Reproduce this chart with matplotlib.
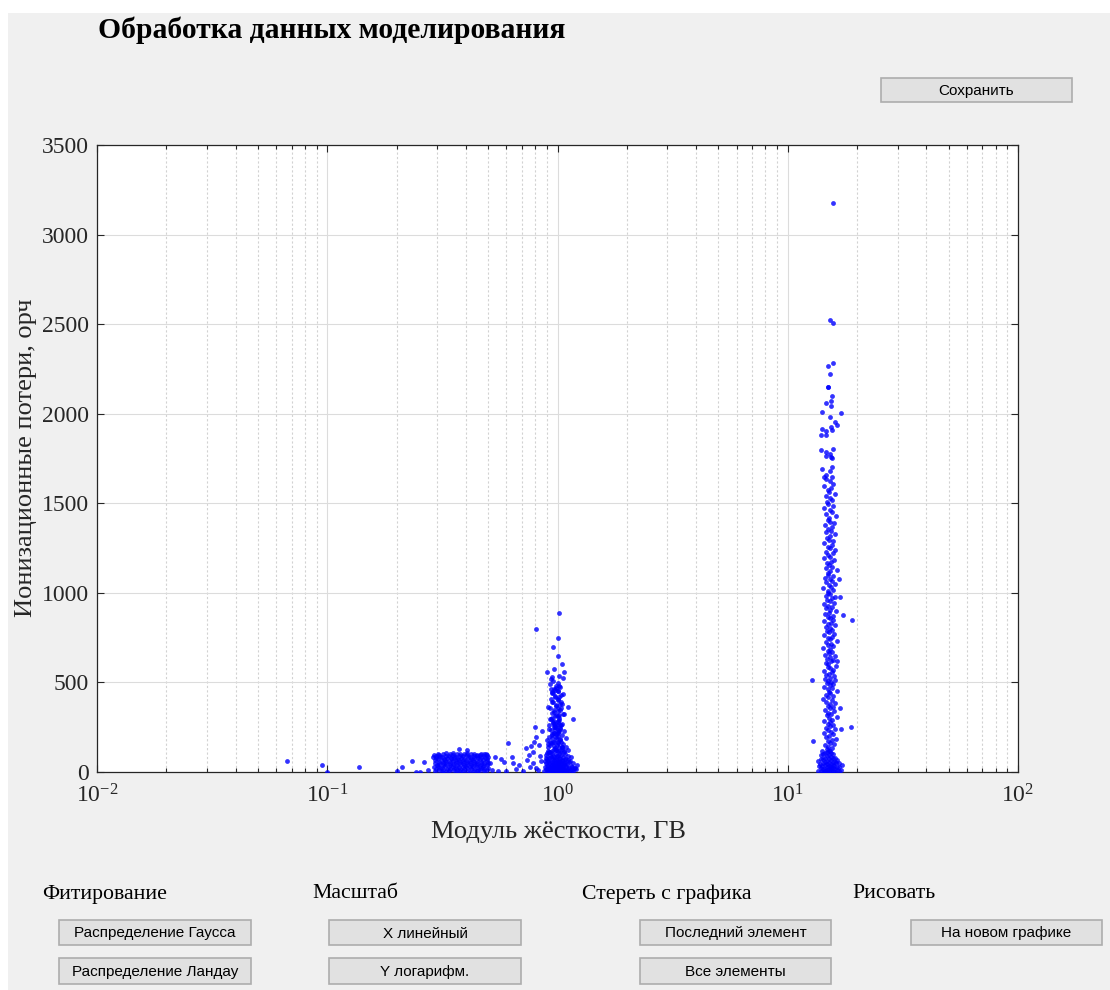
import matplotlib
matplotlib.use("Agg")
import matplotlib.pyplot as plt
from matplotlib.patches import Rectangle

plt.rcParams['font.family'] = ['Liberation Serif', 'DejaVu Serif']
plt.rcParams['mathtext.fontset'] = 'custom'
plt.rcParams['mathtext.rm'] = 'Liberation Serif'
plt.rcParams['mathtext.it'] = 'Liberation Serif'
plt.rcParams['mathtext.default'] = 'rm'

# ---- данные (оценены по картинке) ----
# редкие точки слева
s_x = [0.067, 0.095, 0.100, 0.138, 0.200, 0.212, 0.234, 0.243, 0.253, 0.264, 0.275, 0.289, 0.372, 0.405]
s_y = [61, 39, 2, 28, 3, 28, 62, 2, 0, 56, 10, 84, 128, 123]

# плотное облако около 0.3-0.5 ГВ
a_x = [0.294, 0.297, 0.292, 0.299, 0.295, 0.293, 0.298, 0.296, 0.291,
       0.305, 0.308, 0.303, 0.307, 0.306, 0.304, 0.309, 0.306, 0.302,
       0.316, 0.319, 0.315, 0.318, 0.317, 0.314, 0.320, 0.316, 0.318,
       0.327, 0.330, 0.326, 0.329, 0.328, 0.325, 0.331, 0.327, 0.329,
       0.339, 0.342, 0.338, 0.341, 0.340, 0.337, 0.343, 0.339, 0.341,
       0.351, 0.354, 0.350, 0.353, 0.352, 0.349, 0.355, 0.351, 0.353,
       0.363, 0.366, 0.362, 0.365, 0.364, 0.361, 0.367, 0.363, 0.365,
       0.376, 0.379, 0.375, 0.378, 0.377, 0.374, 0.380, 0.376, 0.378,
       0.389, 0.392, 0.388, 0.391, 0.390, 0.387, 0.393, 0.389, 0.391,
       0.403, 0.406, 0.402, 0.405, 0.404, 0.401, 0.407, 0.403, 0.405,
       0.417, 0.420, 0.416, 0.419, 0.418, 0.415, 0.421, 0.417, 0.419,
       0.432, 0.435, 0.431, 0.434, 0.433, 0.430, 0.436, 0.432, 0.434,
       0.447, 0.450, 0.446, 0.449, 0.448, 0.445, 0.451, 0.447, 0.449,
       0.462, 0.465, 0.461, 0.464, 0.463, 0.460, 0.466, 0.462, 0.464,
       0.478, 0.481, 0.477, 0.480, 0.479, 0.476, 0.482, 0.478, 0.480,
       0.495, 0.498, 0.494, 0.497, 0.496, 0.493, 0.499, 0.495]
a_y = [4, 16, 29, 41, 53, 65, 77, 88, 97,
       9, 21, 34, 46, 58, 70, 82, 93, 103,
       2, 13, 25, 38, 50, 62, 74, 86, 99,
       7, 18, 31, 43, 55, 67, 80, 91, 104,
       3, 15, 27, 39, 52, 64, 76, 89, 100,
       10, 22, 35, 47, 59, 71, 83, 94, 106,
       1, 12, 24, 37, 49, 61, 73, 85, 98,
       6, 19, 30, 42, 56, 68, 79, 92, 102,
       4, 14, 28, 40, 51, 63, 75, 87, 101,
       8, 20, 33, 45, 57, 69, 81, 95, 104,
       2, 15, 26, 38, 50, 62, 74, 86, 99,
       7, 19, 32, 44, 54, 66, 78, 90, 102,
       3, 13, 27, 39, 52, 64, 77, 88, 97,
       9, 21, 34, 46, 58, 70, 83, 94, 103,
       5, 17, 29, 41, 53, 65, 76, 89, 100,
       11, 24, 37, 49, 61, 73, 86, 96]

# точки между облаками
m_x = [0.49, 0.536, 0.57, 0.586, 0.61, 0.635, 0.64, 0.55, 0.51, 0.733, 0.75, 0.78, 0.80, 0.81, 0.76,
       0.81, 0.74, 0.78, 0.52, 0.60, 0.68, 0.71, 0.83, 0.84, 0.79, 0.66, 0.86, 0.85, 0.82, 0.77]
m_y = [100, 84, 73, 56, 162, 84, 50, 6, 50, 134, 95, 112, 251, 196, 28,
       22, 67, 50, 12, 8, 40, 4, 150, 90, 170, 18, 230, 60, 10, 145]

# облако около 1 ГВ
b_x = [0.876, 0.884, 0.879, 0.887,
       0.897, 0.904, 0.899, 0.902, 0.896, 0.905, 0.901,
       0.918, 0.924, 0.916, 0.923, 0.919, 0.925, 0.917,
       0.938, 0.944, 0.936, 0.942, 0.939, 0.945, 0.937, 0.943,
       0.957, 0.963, 0.955, 0.962, 0.958, 0.964, 0.956, 0.961,
       0.977, 0.983, 0.975, 0.982, 0.978, 0.984, 0.976, 0.981, 0.979,
       0.997, 1.004, 0.995, 1.002, 0.998, 1.005, 0.996, 1.003, 0.999,
       1.017, 1.024, 1.015, 1.022, 1.018, 1.025, 1.016, 1.023, 1.019,
       1.037, 1.044, 1.035, 1.042, 1.038, 1.045, 1.036, 1.043,
       1.057, 1.064, 1.055, 1.062, 1.058, 1.065, 1.056,
       1.077, 1.084, 1.075, 1.082, 1.078, 1.085,
       1.106, 1.114, 1.104, 1.112, 1.108, 1.115,
       1.136, 1.144, 1.138, 1.142,
       1.166, 1.174, 1.169,
       1.205, 1.213]
b_y = [5, 30, 62, 95,
       2, 18, 41, 70, 105, 140, 180,
       8, 26, 48, 77, 112, 150, 195,
       3, 15, 35, 58, 84, 120, 160, 210,
       10, 22, 44, 66, 92, 128, 170, 220,
       1, 14, 31, 52, 75, 100, 135, 185, 240,
       6, 20, 38, 60, 88, 115, 148, 200, 260,
       4, 17, 33, 55, 80, 108, 142, 176, 230,
       9, 24, 46, 69, 96, 130, 165, 205,
       2, 13, 36, 57, 86, 118, 155,
       7, 28, 50, 74, 102, 138,
       3, 19, 42, 65, 90, 125,
       11, 34, 60, 85,
       5, 25, 48,
       14, 38]
b_fill_x = [0.89, 0.89, 0.89, 0.91, 0.91, 0.91, 0.91, 0.93, 0.93, 0.93, 0.93, 0.93,
            0.95, 0.95, 0.95, 0.95, 0.95, 0.97, 0.97, 0.97, 0.97, 0.97, 0.97,
            0.99, 0.99, 0.99, 0.99, 0.99, 0.99, 1.01, 1.01, 1.01, 1.01, 1.01, 1.01,
            1.03, 1.03, 1.03, 1.03, 1.03, 1.05, 1.05, 1.05, 1.05, 1.07, 1.07, 1.07,
            1.09, 1.09, 1.09, 1.125, 1.125, 1.155, 1.155, 1.19]
b_fill_y = [15, 48, 80, 10, 35, 60, 120, 4, 25, 55, 95, 170,
            12, 40, 72, 105, 190, 6, 28, 50, 85, 145, 260,
            9, 38, 65, 125, 210, 320, 3, 30, 58, 92, 160, 280,
            12, 42, 75, 115, 240, 7, 32, 62, 140, 18, 45, 110,
            8, 35, 70, 20, 55, 10, 30, 22]
b_mid_x = [0.93, 0.99, 1.05, 0.91, 0.97, 1.03, 1.09, 0.95, 1.01, 1.07,
           0.92, 0.98, 1.04, 0.96, 1.02, 0.94, 1.00, 1.06, 0.97, 1.03,
           0.93, 0.99, 1.05, 0.95, 1.01, 0.98, 1.04, 0.96, 1.00, 0.94,
           1.02, 0.99, 0.97, 1.01, 0.95, 1.03]
b_mid_y = [110, 125, 140, 155, 168, 182, 190, 205, 215, 228,
           240, 252, 263, 275, 288, 298, 310, 322, 335, 345,
           358, 370, 381, 393, 405, 418, 428, 440, 452, 466,
           478, 195, 250, 170, 300, 265]
b_up_x = [0.97, 1.01, 0.94, 1.03, 0.99, 0.92, 1.05, 0.96, 1.00, 0.93,
          1.02, 0.98, 1.07, 0.95, 1.01, 0.97, 1.04, 0.91, 0.99, 1.03,
          0.96, 1.00, 0.94, 1.02, 0.98, 1.06, 0.95, 1.01, 0.97, 1.03,
          0.99, 0.93, 1.00, 0.96, 1.02, 0.98, 1.04, 0.95, 1.00, 0.97,
          1.01, 0.99, 0.94, 1.02, 0.98]
b_up_y = [215, 226, 234, 243, 251, 262, 270, 279, 287, 296,
          304, 313, 321, 330, 339, 347, 356, 365, 373, 382,
          391, 400, 409, 418, 427, 436, 445, 454, 463, 472,
          481, 490, 499, 508, 317, 268, 392, 441, 233, 286,
          355, 470, 520, 538, 455]
b_top_x = [1.02, 0.81, 1.00, 0.96, 1.00, 1.05, 0.97, 0.90, 1.07, 0.95, 1.06, 1.11, 1.17]
b_top_y = [889, 800, 750, 700, 650, 603, 575, 560, 560, 530, 525, 363, 296]

# вертикальная полоса около 15 ГВ
c_bot_x = [13.6, 13.65, 13.55,
           13.9, 13.95, 13.85, 13.9, 13.95,
           14.2, 14.25, 14.15, 14.2, 14.25, 14.2, 14.15,
           14.5, 14.55, 14.45, 14.5, 14.55, 14.5,
           14.8, 14.85, 14.75, 14.8, 14.85, 14.8, 14.75,
           15.1, 15.15, 15.05, 15.1, 15.15, 15.1, 15.05,
           15.4, 15.45, 15.35, 15.4, 15.45, 15.4, 15.35,
           15.7, 15.75, 15.65, 15.7, 15.75, 15.7,
           16.0, 16.05, 15.95, 16.0, 16.05,
           16.3, 16.35, 16.25, 16.3,
           16.7, 16.75, 16.65,
           17.1, 17.15]
c_bot_y = [8, 35, 60,
           4, 22, 45, 70, 95,
           2, 15, 31, 52, 74, 98, 115,
           6, 18, 38, 57, 80, 104,
           1, 12, 27, 44, 63, 88, 110,
           5, 20, 34, 50, 71, 93, 120,
           3, 16, 29, 47, 66, 85, 108,
           7, 24, 40, 58, 79, 101,
           2, 14, 33, 55, 76,
           9, 26, 48, 68,
           5, 30, 52,
           12, 40]
c_x = [15.3, 14.8, 15.6, 15.0, 14.5, 15.9, 15.2, 14.9, 15.5, 16.2,
       14.7, 15.1, 15.8, 14.4, 15.4, 15.0, 16.0, 14.6, 15.3, 15.7,
       14.9, 15.2, 14.3, 15.6, 15.1, 16.3, 14.8, 15.4, 15.0, 15.9,
       14.5, 15.3, 15.7, 14.9, 15.2, 16.1, 14.7, 15.5, 14.2, 15.0,
       15.8, 14.6, 15.3, 15.1, 16.4, 14.9, 15.6, 14.4, 15.2, 15.7,
       14.8, 15.4, 15.0, 16.0, 14.5, 15.3, 15.9, 14.7, 15.1, 15.5,
       14.3, 15.8, 15.2, 14.9, 16.2, 15.0, 14.6, 15.4, 15.7, 14.8,
       15.3, 16.1, 14.5, 15.1, 15.6, 14.9, 15.2, 14.2, 15.8, 15.0,
       15.4, 14.7, 16.3, 15.2, 14.9, 15.5, 14.4, 15.9, 15.1, 14.8,
       15.6, 15.3, 14.6, 16.0, 15.0, 15.4, 14.3, 15.7, 15.2, 14.9,
       15.8, 14.5, 15.1, 16.2, 15.3, 14.7, 15.5, 15.0, 14.4, 15.9,
       15.2, 14.8, 15.6, 16.1, 14.6, 15.3, 15.0, 14.9, 15.7, 14.2,
       15.4, 15.1, 16.0, 14.7, 15.5, 15.2, 14.5, 15.8, 15.0, 14.9,
       15.3, 16.3, 14.6, 15.6, 15.1, 14.8, 15.4, 15.9, 14.3, 15.2,
       15.0, 15.7, 14.7, 16.1, 15.3, 14.9, 15.5, 14.4, 15.8, 15.1,
       14.8, 15.2, 16.0, 14.6, 15.4, 15.0, 15.6, 14.5, 15.9, 15.3,
       14.9, 15.1, 16.2, 14.7, 15.5, 15.2, 14.4, 15.7, 15.0, 14.8,
       15.6, 15.3, 14.6, 16.0, 15.1, 14.9, 15.4, 14.3, 15.8, 15.2,
       14.7, 15.5]
c_y = [120, 128, 133, 141, 150, 156, 163, 171, 178, 186,
       195, 201, 210, 217, 224, 233, 240, 246, 255, 263,
       270, 279, 286, 292, 301, 309, 316, 324, 331, 338,
       347, 355, 361, 370, 378, 384, 393, 401, 407, 416,
       424, 431, 439, 446, 454, 462, 470, 477, 485, 492,
       499, 503, 508, 512, 519, 526, 534, 541, 548, 556,
       563, 571, 579, 586, 594, 601, 609, 617, 624, 632,
       640, 647, 655, 663, 671, 678, 686, 694, 701, 709,
       717, 725, 733, 740, 748, 756, 764, 772, 779, 787,
       795, 803, 811, 819, 826, 834, 842, 850, 858, 866,
       873, 881, 889, 897, 905, 913, 921, 929, 937, 945,
       953, 961, 969, 977, 985, 993, 1001, 1009, 1018, 1026,
       1034, 1043, 1051, 1060, 1068, 1077, 1085, 1094, 1102, 1111,
       1120, 1129, 1138, 1147, 1156, 1165, 1174, 1183, 1192, 1201,
       1211, 1220, 1230, 1239, 1249, 1258, 1268, 1278, 1287, 1297,
       1307, 1317, 1327, 1337, 1347, 1357, 1367, 1378, 1388, 1398,
       1409, 1419, 1430, 1441, 1451, 1462, 1473, 1484, 1495, 1506,
       1517, 1528, 1540, 1551, 1563, 1574, 1586, 1598, 1610, 1622,
       1634, 1646]
c_up_x = [15.7, 15.2, 15.8, 14.9, 15.8, 15.2, 14.9, 15.0, 15.5, 15.4,
          14.6, 15.4, 14.1, 17.0, 15.2, 16.1, 16.4, 14.1, 15.4, 15.5,
          14.7, 14.0, 14.6, 14.0, 14.6, 15.8, 15.2, 14.7, 15.4, 15.5,
          14.1, 15.5, 15.2, 14.7, 14.4]
c_up_y = [3175, 2525, 2508, 2268, 2285, 2223, 2151, 2150, 2100, 2073,
          2061, 2045, 2011, 2006, 1983, 1955, 1939, 1916, 1927, 1911,
          1905, 1883, 1883, 1799, 1788, 1804, 1777, 1765, 1760, 1753,
          1693, 1704, 1682, 1659, 1648]
c_out_x = [12.7, 12.9, 19.0, 18.9, 17.0, 17.3, 16.8, 16.7, 16.4, 16.9]
c_out_y = [512, 173, 850, 251, 242, 877, 978, 1076, 620, 356]

x_ticks = [0.01, 0.1, 1, 10, 100]
x_tick_labels = [r'$10^{-2}$', r'$10^{-1}$', r'$10^{0}$', r'$10^{1}$', r'$10^{2}$']
y_ticks = [0, 500, 1000, 1500, 2000, 2500, 3000, 3500]

W, H = 1110, 990
fig = plt.figure(figsize=(W / 100, H / 100), dpi=100, facecolor='white')

# фон окна и элементы интерфейса (в пикселях)
bg = fig.add_axes([0, 0, 1, 1], zorder=0)
bg.set_xlim(0, W)
bg.set_ylim(H, 0)
bg.axis('off')
bg.add_patch(Rectangle((8, 13), W - 8, H - 13, facecolor='#f0f0f0', edgecolor='none'))


def button(x0, y0, x1, y1, label):
    bg.add_patch(Rectangle((x0, y0), x1 - x0, y1 - y0, facecolor='#e1e1e1',
                           edgecolor='#adadad', linewidth=1.2))
    bg.text((x0 + x1) / 2, (y0 + y1) / 2 + 1, label, ha='center', va='center',
            fontsize=11, family=['Liberation Sans', 'DejaVu Sans'], color='black')


bg.text(98, 30, 'Обработка данных моделирования', fontsize=21.3, fontweight='bold',
        ha='left', va='center', color='black')
button(881, 78, 1072, 102, 'Сохранить')

for x0, lab in [(42, 'Фитирование'), (312, 'Масштаб'), (582, 'Стереть с графика'), (852, 'Рисовать')]:
    bg.text(x0, 894, lab, fontsize=15.7, ha='left', va='center', color='black')

button(59, 920, 251, 945, 'Распределение Гаусса')
button(59, 958, 251, 984, 'Распределение Ландау')
button(329, 920, 521, 945, 'X линейный')
button(329, 958, 521, 984, 'Y логарифм.')
button(640, 920, 831, 945, 'Последний элемент')
button(640, 958, 831, 984, 'Все элементы')
button(911, 920, 1102, 945, 'На новом графике')

bg.text(558, 832, 'Модуль жёсткости, ГВ', fontsize=19, ha='center', va='center', color='#262626')
bg.text(26, 458, 'Ионизационные потери, орч', fontsize=19, ha='center', va='center',
        rotation=90, color='#262626')

# основной график
ax = fig.add_axes([97 / W, (H - 772) / H, 921 / W, 627 / H], zorder=1)
ax.set_facecolor('white')
ax.set_xscale('log')
ax.set_xlim(0.01, 100)
ax.set_ylim(0, 3500)

groups = [(s_x, s_y), (a_x, a_y), (m_x, m_y), (b_x, b_y), (b_fill_x, b_fill_y),
          (b_mid_x, b_mid_y), (b_up_x, b_up_y), (b_top_x, b_top_y),
          (c_bot_x, c_bot_y), (c_x, c_y), (c_up_x, c_up_y), (c_out_x, c_out_y)]
for gx, gy in groups:
    ax.scatter(gx, gy, s=12, color='blue', alpha=0.8, linewidths=0, zorder=3)

ax.set_xticks(x_ticks)
ax.set_xticklabels(x_tick_labels)
ax.set_yticks(y_ticks)
ax.set_yticklabels([str(v) for v in y_ticks])

ax.grid(True, which='major', axis='both', color='#dcdcdc', linewidth=0.8, linestyle='-')
ax.grid(True, which='minor', axis='x', color='#d2d2d2', linewidth=0.8, linestyle=(0, (2, 2)))
ax.set_axisbelow(True)

ax.tick_params(which='both', direction='in', top=True, right=True, colors='#262626',
               labelsize=17, width=0.8)
ax.tick_params(which='major', length=5)
ax.tick_params(which='minor', length=3)
ax.tick_params(axis='x', pad=9)
ax.tick_params(axis='y', pad=6)
for sp in ax.spines.values():
    sp.set_color('#262626')
    sp.set_linewidth(0.9)

fig.savefig('out.png', dpi=100, facecolor=fig.get_facecolor())
